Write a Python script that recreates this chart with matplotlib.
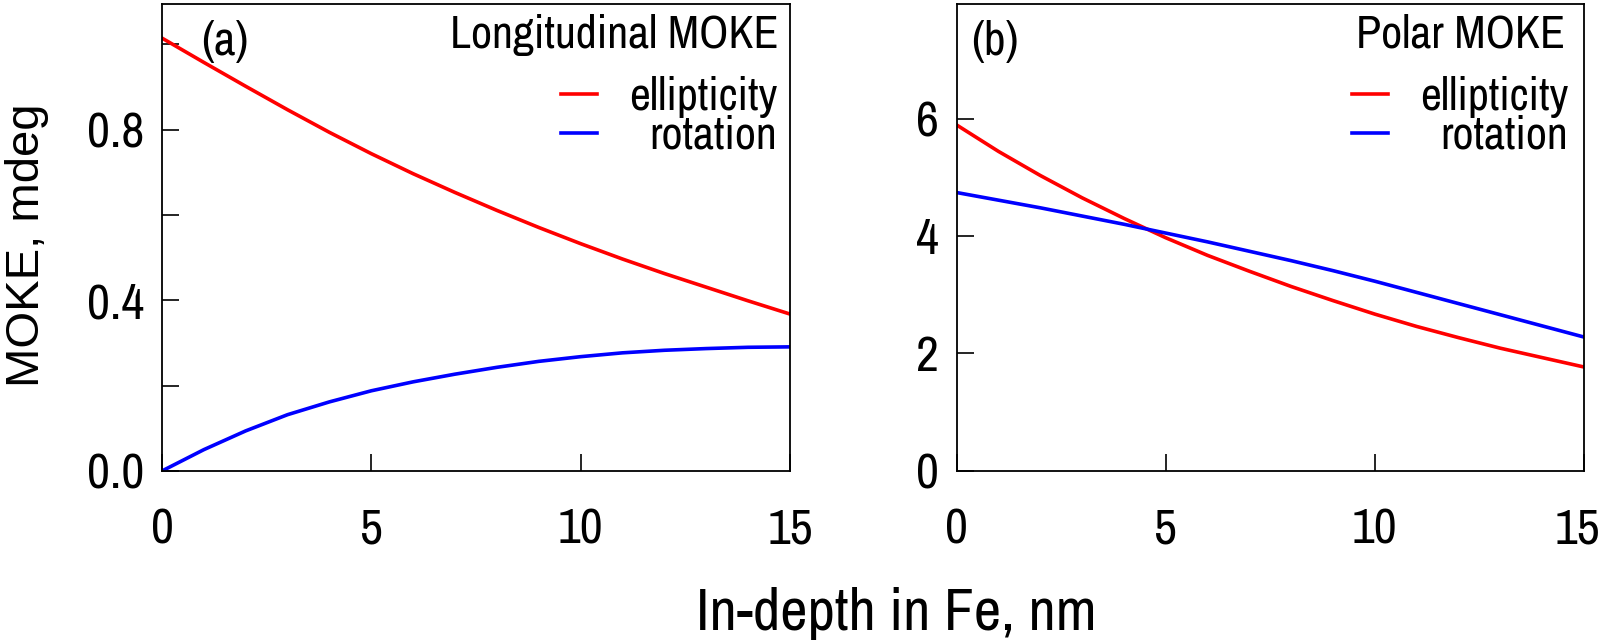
import numpy as np
import matplotlib
matplotlib.use("Agg")
import matplotlib.pyplot as plt
from matplotlib import font_manager
from matplotlib.transforms import ScaledTranslation

# depth in Fe, nm
depth = [0, 1, 2, 3, 4, 5, 6, 7, 8, 9, 10, 11, 12, 13, 14, 15]

# (a) longitudinal MOKE, mdeg
long_ellipticity = [1.015, 0.958, 0.902, 0.847, 0.794, 0.744, 0.697, 0.653,
                    0.611, 0.571, 0.533, 0.497, 0.463, 0.431, 0.399, 0.368]
long_rotation = [0.000, 0.050, 0.094, 0.132, 0.162, 0.188, 0.209, 0.227,
                 0.243, 0.257, 0.268, 0.277, 0.283, 0.287, 0.290, 0.291]

# (b) polar MOKE, mdeg
polar_ellipticity = [5.89, 5.44, 5.03, 4.65, 4.30, 3.97, 3.67, 3.40,
                     3.14, 2.90, 2.67, 2.46, 2.27, 2.09, 1.93, 1.77]
polar_rotation = [4.74, 4.61, 4.48, 4.34, 4.20, 4.05, 3.90, 3.74,
                  3.58, 3.41, 3.23, 3.04, 2.85, 2.66, 2.47, 2.28]

series_labels = ["ellipticity", "rotation"]
xticks = [0, 5, 10, 15]

NARROW = dict(family=["Archivo Narrow", "DejaVu Sans"])
REGULAR = dict(family=["Liberation Sans", "DejaVu Sans"])

TICK_FS = 36
LEG_FS = 33

fig = plt.figure(figsize=(15.99, 6.42), dpi=100)
ax1 = fig.add_axes([0.1013, 0.2664, 0.3927, 0.7274])
ax2 = fig.add_axes([0.5983, 0.2664, 0.3923, 0.7274])


def style_axis(ax, ylim, major, minor, fmt):
    ax.set_xlim(0, 15)
    ax.set_ylim(*ylim)
    ax.set_xticks(xticks)
    ax.set_yticks(major)
    if minor:
        ax.set_yticks(minor, minor=True)
    ax.set_yticklabels([fmt.format(v) for v in major])
    ax.set_xticklabels([str(v) for v in xticks])
    ax.tick_params(which="both", direction="in", length=12, width=1.2,
                   top=False, right=False)
    ax.tick_params(axis="y", pad=13)
    ax.tick_params(axis="x", pad=26)
    for lab in ax.get_xticklabels() + ax.get_yticklabels():
        lab.set_fontproperties(font_manager.FontProperties(size=TICK_FS, **NARROW))
    for sp in ax.spines.values():
        sp.set_linewidth(1.3)


def add_legend(ax, lines, title, title_x, leg_x, panel, panel_x):
    ax.text(title_x, 0.906, title, transform=ax.transAxes, ha="right",
            va="baseline", fontsize=LEG_FS, **NARROW)
    ax.text(panel_x, 0.891, panel, transform=ax.transAxes, ha="left",
            va="baseline", fontsize=LEG_FS + 1, **NARROW)
    leg = ax.legend(lines, series_labels, loc="upper right",
                    bbox_to_anchor=(leg_x, 0.845), frameon=False,
                    borderaxespad=0, borderpad=0, handlelength=0.78,
                    handletextpad=0.7, labelspacing=-0.08,
                    prop=font_manager.FontProperties(size=LEG_FS, **NARROW))
    return leg


# panel (a)
la1, = ax1.plot(depth, long_ellipticity, color="red", lw=2.6)
la2, = ax1.plot(depth, long_rotation, color="blue", lw=2.6)
style_axis(ax1, (0, 1.095), [0.0, 0.4, 0.8], [0.2, 0.6, 1.0], "{:.1f}")
leg1 = add_legend(ax1, [la1, la2], "Longitudinal MOKE", 0.982, 0.980, "(a)", 0.062)

# panel (b)
lb1, = ax2.plot(depth, polar_ellipticity, color="red", lw=2.6)
lb2, = ax2.plot(depth, polar_rotation, color="blue", lw=2.6)
style_axis(ax2, (0, 7.95), [0, 2, 4, 6], None, "{:.0f}")
leg2 = add_legend(ax2, [lb1, lb2], "Polar MOKE", 0.970, 0.975, "(b)", 0.023)

fig.text(0.0168, 0.618, "MOKE, mdeg", rotation=90, ha="center", va="center",
         fontsize=34, **REGULAR)
fig.text(0.5604, 0.0187, "In-depth in Fe, nm", ha="center", va="baseline",
         fontsize=43, **NARROW)

# right-align the legend labels while keeping the keys in one column
fig.canvas.draw()
renderer = fig.canvas.get_renderer()
for leg in (leg1, leg2):
    widths = [t.get_window_extent(renderer).width for t in leg.get_texts()]
    wmax = max(widths)
    col = leg._legend_handle_box.get_children()[0]
    for row, w in zip(col.get_children(), widths):
        row.sep += (wmax - w) * 72.0 / fig.dpi

# keep the last "15" inside the figure edge
last = ax2.xaxis.get_major_ticks()[-1].label1
last.set_transform(last.get_transform() + ScaledTranslation(-0.07, 0, fig.dpi_scale_trans))

fig.savefig("out.png", dpi=100)
